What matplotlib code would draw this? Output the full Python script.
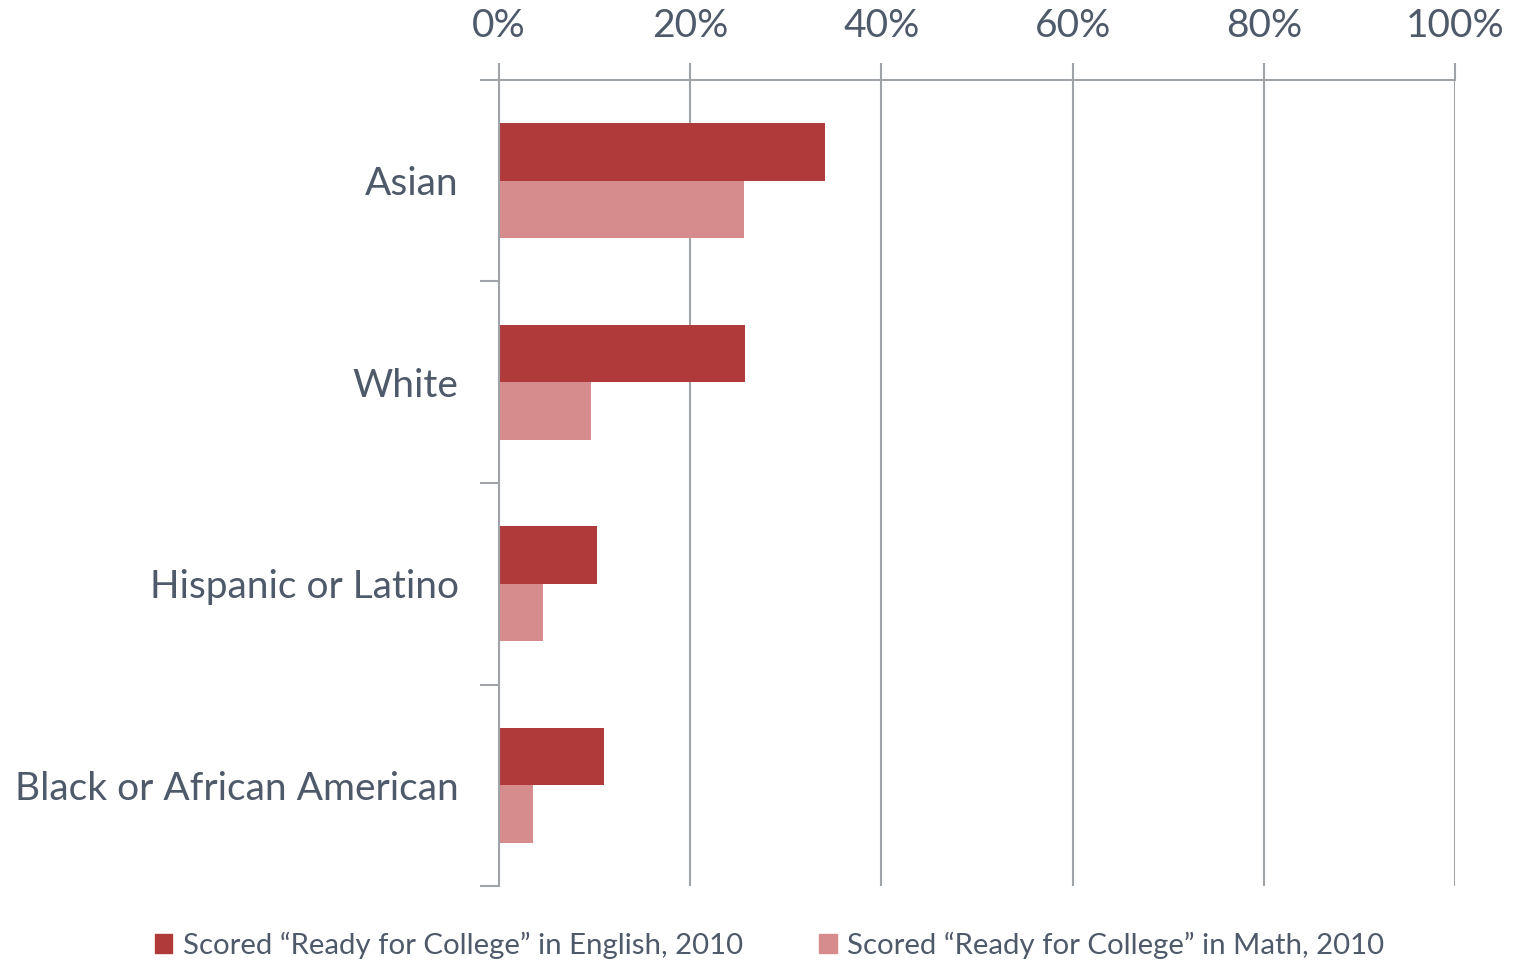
import matplotlib.pyplot as plt
import numpy as np
from matplotlib.patches import Patch

groups = ["Asian", "White", "Hispanic or Latino", "Black or African American"]
english = [34.1, 25.7, 10.2, 11.0]
math = [25.6, 9.6, 4.6, 3.6]
series_labels = ["Scored \u201cReady for College\u201d in English, 2010",
                 "Scored \u201cReady for College\u201d in Math, 2010"]
xticks = [0, 20, 40, 60, 80, 100]

dark_red = "#B03A3A"
pink = "#D68C8C"
text_col = "#4E5A6A"
line_col = "#A0A3A8"

plt.rcParams['font.family'] = ['Lato', 'DejaVu Sans']

fig = plt.figure(figsize=(15.15, 9.6), dpi=100)
ax = fig.add_axes([499 / 1515, 74 / 960, 956 / 1515, 806 / 960])

y = np.arange(len(groups))
h = 0.285
ax.barh(y - h / 2, english, height=h, color=dark_red, label=series_labels[0])
ax.barh(y + h / 2, math, height=h, color=pink, label=series_labels[1])

ax.set_xlim(0, 100)
ax.set_ylim(len(groups) - 0.5, -0.5)

ax.xaxis.tick_top()
ax.set_xticks(xticks)
ax.set_xticklabels([f"{v}%" for v in xticks])
ax.tick_params(axis='x', length=12, width=1.5, color=line_col, labelsize=28,
               labelcolor=text_col, pad=14)
ax.grid(axis='x', color=line_col, linewidth=1.5)
ax.set_axisbelow(True)

ax.set_yticks(y)
ax.set_yticklabels(groups)
ax.set_yticks(np.arange(len(groups) + 1) - 0.5, minor=True)
ax.tick_params(axis='y', which='major', length=0, labelsize=28,
               labelcolor=text_col, pad=29)
ax.tick_params(axis='y', which='minor', length=14, width=1.5, color=line_col)

for s in ['right', 'bottom']:
    ax.spines[s].set_visible(False)
ax.spines['top'].set_color(line_col)
ax.spines['top'].set_linewidth(1.5)
ax.spines['left'].set_color(line_col)
ax.spines['left'].set_linewidth(1.5)

handles = [Patch(color=dark_red), Patch(color=pink)]
fig.legend(handles, series_labels, loc='center', ncol=2,
           bbox_to_anchor=(0.508, 1 - 945 / 960), frameon=False, fontsize=21.2,
           labelcolor=text_col, handlelength=0.6, handleheight=0.6,
           handletextpad=0.35, columnspacing=2.6, borderpad=0)

fig.savefig("out.png", dpi=100)
